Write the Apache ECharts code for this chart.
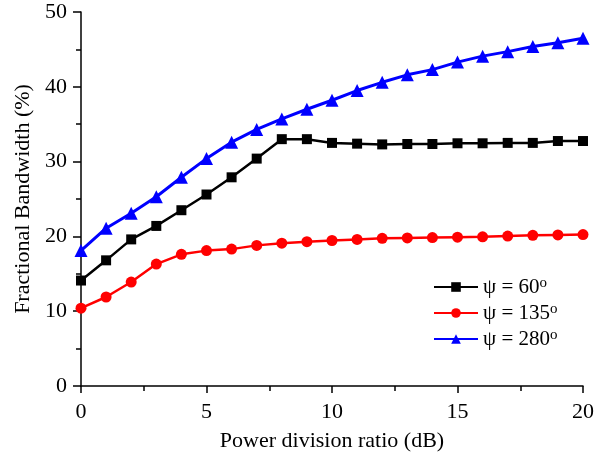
<!DOCTYPE html>
<html>
<head>
<meta charset="utf-8">
<script src="https://cdn.jsdelivr.net/npm/echarts@6/dist/echarts.min.js"></script>
<style>
  html, body { margin: 0; padding: 0; background: #fff; }
  #chart { width: 597px; height: 457px; }
</style>
</head>
<body>
<div id="chart"></div>
<script>
// Power division ratio (dB)
const ratios = [0, 1, 2, 3, 4, 5, 6, 7, 8, 9, 10, 11, 12, 13, 14, 15, 16, 17, 18, 19, 20];

// Fractional bandwidth (%) for each phase setting
const bw60 = [14.1, 16.8, 19.6, 21.4, 23.5, 25.6, 27.9, 30.4, 33.0, 33.0, 32.5, 32.4, 32.3, 32.35, 32.35, 32.45, 32.45, 32.5, 32.5, 32.75, 32.75];
const bw135 = [10.4, 11.9, 13.9, 16.3, 17.6, 18.1, 18.3, 18.8, 19.1, 19.3, 19.45, 19.6, 19.75, 19.8, 19.85, 19.9, 19.95, 20.05, 20.15, 20.2, 20.25];
const bw280 = [18.1, 21.1, 23.1, 25.3, 27.9, 30.4, 32.6, 34.3, 35.7, 37.0, 38.2, 39.5, 40.6, 41.6, 42.3, 43.3, 44.1, 44.7, 45.4, 45.9, 46.5];

const seriesNames = ['ψ = 60', 'ψ = 135', 'ψ = 280'];

const FONT = '"Liberation Serif", "DejaVu Serif", serif';

const pairs = (ys) => ratios.map((x, i) => [x, ys[i]]);

const chart = echarts.init(document.getElementById('chart'), null, { renderer: 'canvas' });

chart.setOption({
  animation: false,
  backgroundColor: '#fff',
  grid: { left: 81, right: 12, top: 12, bottom: 71, containLabel: false },
  legend: {
    orient: 'vertical',
    left: 428,
    top: 271,
    itemWidth: 44,
    itemHeight: 12,
    itemGap: 4.5,
    data: seriesNames,
    formatter: (name) => '{a|' + name + '}{s|o}',
    textStyle: {
      color: '#000',
      fontFamily: FONT,
      rich: {
        a: { fontSize: 21, fontFamily: FONT, color: '#000', lineHeight: 22 },
        s: { fontSize: 15, fontFamily: FONT, color: '#000', verticalAlign: 'top', lineHeight: 12 }
      }
    }
  },
  xAxis: {
    type: 'value',
    min: 0,
    max: 20,
    interval: 5,
    name: 'Power division ratio (dB)',
    nameLocation: 'middle',
    nameGap: 44,
    nameTextStyle: { fontFamily: FONT, fontSize: 22, color: '#000' },
    axisLine: { show: true, onZero: false, lineStyle: { color: '#000', width: 1.5 } },
    axisTick: { show: true, inside: false, length: 7, lineStyle: { color: '#000', width: 1.5 } },
    minorTick: { show: true, splitNumber: 2, length: 5, lineStyle: { color: '#000', width: 1.5 } },
    axisLabel: { fontFamily: FONT, fontSize: 22, color: '#000', margin: 15 },
    splitLine: { show: false }
  },
  yAxis: {
    type: 'value',
    min: 0,
    max: 50,
    interval: 10,
    name: 'Fractional Bandwidth (%)',
    nameLocation: 'middle',
    nameGap: 47,
    nameRotate: 90,
    nameTextStyle: { fontFamily: FONT, fontSize: 22, color: '#000' },
    axisLine: { show: true, onZero: false, lineStyle: { color: '#000', width: 1.5 } },
    axisTick: { show: true, inside: false, length: 8, lineStyle: { color: '#000', width: 1.5 } },
    minorTick: { show: true, splitNumber: 2, length: 5, lineStyle: { color: '#000', width: 1.5 } },
    axisLabel: { fontFamily: FONT, fontSize: 22, color: '#000', margin: 14 },
    splitLine: { show: false }
  },
  series: [
    {
      name: seriesNames[0],
      type: 'line',
      data: pairs(bw60),
      color: '#000000',
      symbol: 'rect',
      symbolSize: 10,
      lineStyle: { width: 2.5, color: '#000000' },
      itemStyle: { color: '#000000' }
    },
    {
      name: seriesNames[1],
      type: 'line',
      data: pairs(bw135),
      color: '#ff0000',
      symbol: 'circle',
      symbolSize: 11,
      lineStyle: { width: 2.5, color: '#ff0000' },
      itemStyle: { color: '#ff0000' }
    },
    {
      name: seriesNames[2],
      type: 'line',
      data: pairs(bw280),
      color: '#0000ff',
      symbol: 'triangle',
      symbolSize: 13,
      lineStyle: { width: 3, color: '#0000ff' },
      itemStyle: { color: '#0000ff' }
    }
  ]
});
</script>
</body>
</html>
